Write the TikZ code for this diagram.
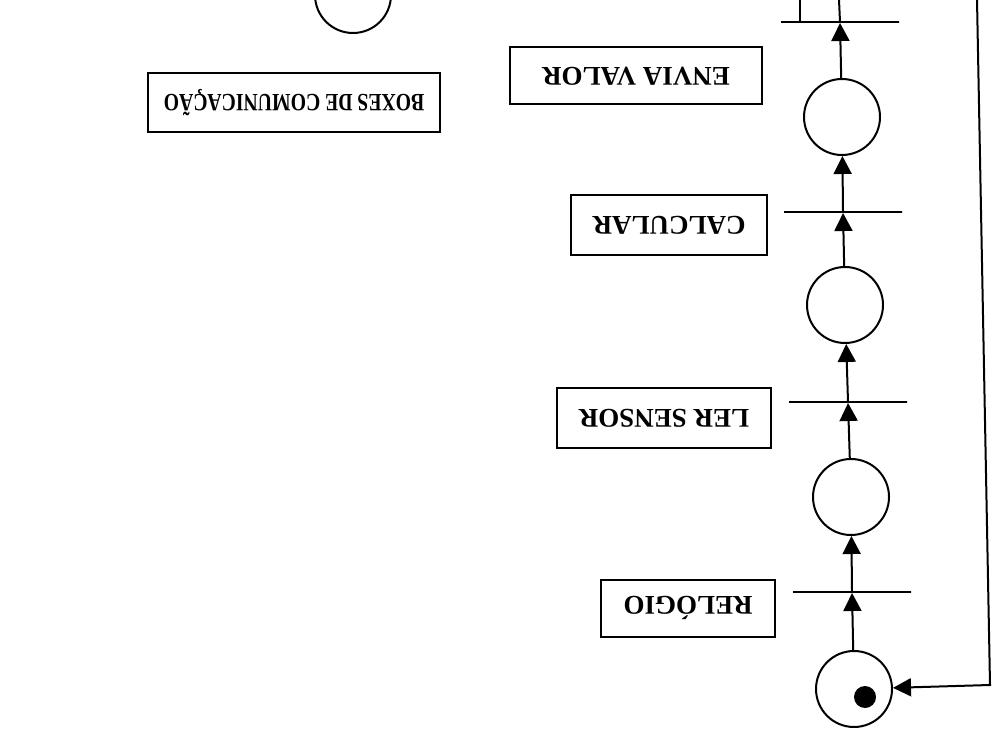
\documentclass[tikz,border=0pt]{standalone}
\usepackage{fontspec}
\setmainfont{Liberation Serif}
\usetikzlibrary{arrows.meta,positioning}

\begin{document}
\begin{tikzpicture}[x=0.5pt,y=-0.5pt,line width=1pt,
    place/.style={draw,circle,minimum size=38pt,inner sep=0pt},
    bar/.style={draw,rectangle,minimum width=59pt,minimum height=0pt,inner sep=0pt},
    token/.style={fill,circle,minimum size=11pt,inner sep=0pt},
    label/.style={draw,rotate=180,align=center,inner sep=2pt,
                  font=\fontsize{13.5}{16}\selectfont\bfseries},
    arc/.style={-{Triangle[length=9pt,width=9pt]}}]

    \useasboundingbox (0,0) rectangle (994,731);
    \clip (0,0) rectangle (994,731);

    % places and transitions, bottom to top
    \node[place] (p4) at (854,689) {};
    \node[token] (tok) at (865,697) {};
    \node[bar]   (t4) at (852,592) {};
    \node[place] (p3) at (851,497) {};
    \node[bar]   (t3) at (848,402) {};
    \node[place] (p2) at (845,305) {};
    \node[bar]   (t2) at (843,212) {};
    \node[place] (p1) at (842,117) {};
    \node[bar]   (t1) at (840,22)  {};
    \node[place] (p0) at (353,-5)  {};

    % names of the transitions
    \node[label,minimum width=87pt,minimum height=28.5pt] (relogio) at (688,608) {RELÓGIO};
    \node[label,minimum width=107pt,minimum height=29.5pt] (ler) at (664,418) {LER SENSOR};
    \node[label,minimum width=98pt,minimum height=30pt] (calc) at (669,225) {CALCULAR};
    \node[label,minimum width=126pt,minimum height=28.5pt] (envia) at (636,76) {ENVIA VALOR};
    \node[label,minimum width=146pt,minimum height=29.5pt] (boxes) at (294,103)
      {\scalebox{0.73}[0.92]{BOXES DE COMUNICAÇÃO}};

    % arcs
    \draw[arc] (p4) -- (t4);
    \draw[arc] (t4) -- (p3);
    \draw[arc] (p3) -- (t3);
    \draw[arc] (t3) -- (p2);
    \draw[arc] (p2) -- (t2);
    \draw[arc] (t2) -- (p1);
    \draw[arc] (p1) -- (t1);

    % leaving the top edge
    \coordinate (out) at (839,0);
    \coordinate (tick) at (800,0);
    \draw (t1) -- (out);
    \draw (t1.center -| tick) -- (tick);

    % back to the first place
    \coordinate (fbtop) at (977,0);
    \coordinate (fbcorner) at (990,685);
    \draw[arc] (fbtop) -- (fbcorner) -- (p4);
  \end{tikzpicture}
\end{document}
